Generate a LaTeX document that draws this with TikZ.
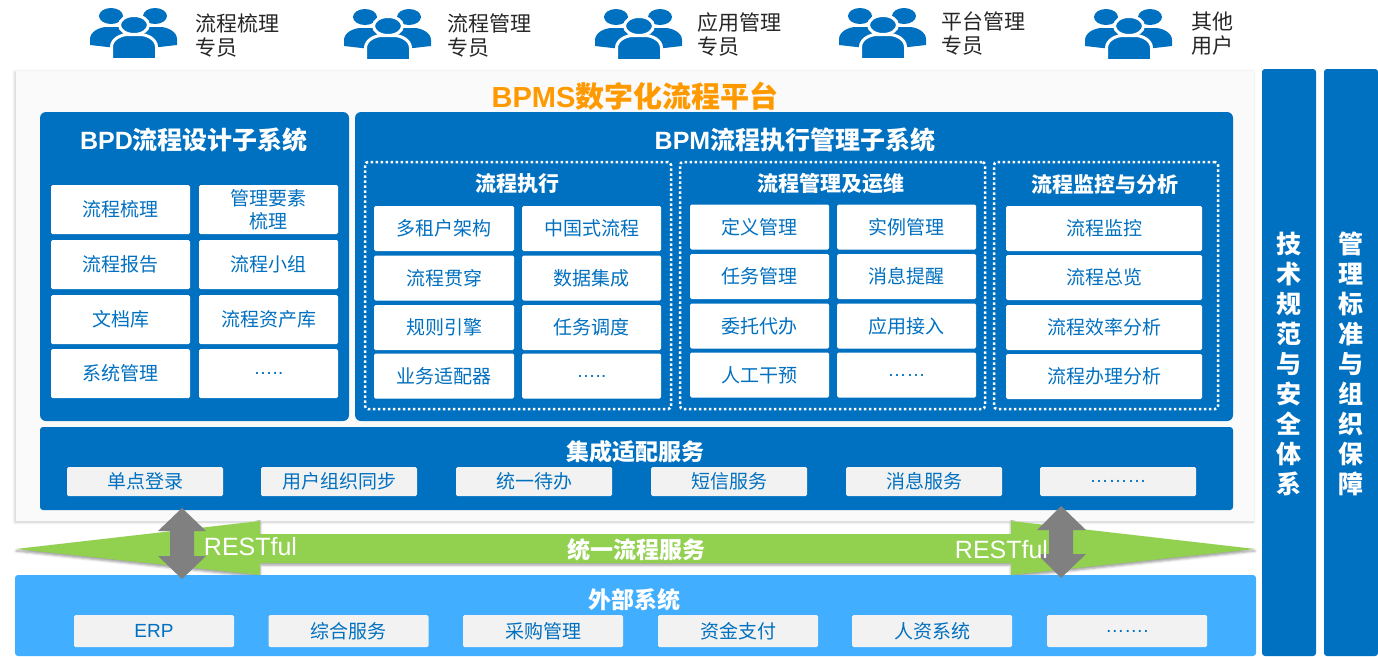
\documentclass[tikz,border=0pt]{standalone}
\usepackage{fontspec}
\setmainfont{Noto Sans CJK SC}
\newfontfamily\latinfont{Liberation Sans}
\usetikzlibrary{shadows.blur}
\definecolor{bpmblue}{HTML}{0070C0}
\definecolor{extblue}{HTML}{42AEFF}
\definecolor{restgreen}{HTML}{92D050}
\definecolor{chipgray}{HTML}{F2F2F2}
\definecolor{titleorange}{HTML}{FF9900}
\tikzset{
  panel/.style={rectangle, fill=bpmblue, rounded corners=6pt, inner sep=0pt},
  card/.style={rectangle, fill=white, text=bpmblue, rounded corners=1.5pt, inner sep=0pt, align=center, font=\fontsize{19}{22}\selectfont},
  chip/.style={rectangle, fill=chipgray, text=bpmblue, rounded corners=1.5pt, inner sep=0pt, font=\fontsize{19}{22}\selectfont},
  frame/.style={rectangle, draw=white, line width=2.5pt, dash pattern=on 2.5pt off 2.5pt, rounded corners=3pt, inner sep=0pt},
  heading/.style={text=white, inner sep=0pt, font=\fontsize{21}{24}\bfseries\selectfont},
  bigheading/.style={text=white, inner sep=0pt, font=\fontsize{23}{26}\bfseries\selectfont},
  subsystem/.style={text=white, inner sep=0pt, font=\fontsize{25}{28}\bfseries\selectfont},
  role/.style={anchor=west, align=left, text=black!85, inner sep=0pt, font=\fontsize{21}{24}\selectfont},
  sidetext/.style={text=white, inner sep=0pt, align=center, font=\fontsize{25}{30}\bfseries\selectfont},
  resttext/.style={text=white, inner sep=0pt, font=\latinfont\fontsize{25}{28}\selectfont},
  people/.pic={
    \fill[bpmblue] (-22,8) ellipse (12 and 8);
    \fill[bpmblue] (22,8) ellipse (12 and 8);
    \fill[bpmblue] (-43,37) -- (-43,31) .. controls (-43,24) and (-34,19) .. (-26,19) -- (-10,19) -- (-10,41) -- (-21,39.5) -- cycle;
    \fill[bpmblue] (44,37) -- (44,31) .. controls (44,24) and (35,19) .. (27,19) -- (11,19) -- (11,41) -- (22,39.5) -- cycle;
    \filldraw[fill=bpmblue, draw=white, line width=3pt] (1,17) ellipse (14.5 and 9.5);
    \filldraw[fill=bpmblue, draw=white, line width=3pt] (-21.5,52) -- (-21.5,39) .. controls (-21.5,31) and (-12,26.5) .. (-5,26.5) -- (7,26.5) .. controls (14,26.5) and (23.5,31) .. (23.5,39) -- (23.5,52) -- cycle;
    \fill[white] (-25,49.5) rectangle (27,54);
  }
}
\begin{document}
\begin{tikzpicture}[x=1pt, y=-1pt]
    \useasboundingbox (0,0) rectangle (1378,656);

    % users on top
    \pic at (133,8) {people};
    \pic at (387,9) {people};
    \pic at (638,9) {people};
    \pic at (882,8) {people};
    \pic at (1128,9) {people};
    \node[role] (r1) at (195,35.5) {流程梳理\\专员};
    \node[role] (r2) at (447,35.5) {流程管理\\专员};
    \node[role] (r3) at (697,34.5) {应用管理\\专员};
    \node[role] (r4) at (941,33.5) {平台管理\\专员};
    \node[role] (r5) at (1191,33.5) {其他\\用户};

    % platform background
    \node[rectangle, fill=white!98!black, inner sep=0pt, minimum width=1238pt, minimum height=450pt, blur shadow={shadow xshift=-1pt, shadow yshift=-1pt, shadow blur radius=3pt, shadow opacity=20}] (platform) at (635,296) {};
    \node[text=titleorange, inner sep=0pt, font=\fontsize{29}{32}\bfseries\selectfont] (title) at (635,96.5) {{\latinfont BPMS}数字化流程平台};

    % BPD
    \node[panel, minimum width=309pt, minimum height=309pt] (bpd) at (194.5,266.5) {};
    \node[subsystem] (bpdt) at (194,139.5) {{\latinfont BPD}流程设计子系统};
    \node[card, minimum width=139pt, minimum height=49pt] (d1) at (120.5,209.5) {流程梳理};
    \node[card, minimum width=139pt, minimum height=49pt, font=\fontsize{19}{23}\selectfont] (d2) at (268.5,209.5) {管理要素\\梳理};
    \node[card, minimum width=139pt, minimum height=49pt] (d3) at (120.5,264.5) {流程报告};
    \node[card, minimum width=139pt, minimum height=49pt] (d4) at (268.5,264.5) {流程小组};
    \node[card, minimum width=139pt, minimum height=49pt] (d5) at (120.5,319.5) {文档库};
    \node[card, minimum width=139pt, minimum height=49pt] (d6) at (268.5,319.5) {流程资产库};
    \node[card, minimum width=139pt, minimum height=49pt] (d7) at (120.5,373.5) {系统管理};
    \node[card, minimum width=139pt, minimum height=49pt] (d8) at (268.5,373.5) {{\latinfont …..}};

    % BPM
    \node[panel, minimum width=878pt, minimum height=309pt] (bpm) at (794,266.5) {};
    \node[subsystem] (bpmt) at (795,139.5) {{\latinfont BPM}流程执行管理子系统};

    \node[frame, minimum width=306pt, minimum height=247pt] (f1) at (518,285.5) {};
    \node[heading] (f1t) at (517,184) {流程执行};
    \node[card, minimum width=140pt, minimum height=45pt] (e1) at (444,228.5) {多租户架构};
    \node[card, minimum width=139pt, minimum height=45pt] (e2) at (591.5,228.5) {中国式流程};
    \node[card, minimum width=140pt, minimum height=45pt] (e3) at (444,278) {流程贯穿};
    \node[card, minimum width=139pt, minimum height=45pt] (e4) at (591.5,278) {数据集成};
    \node[card, minimum width=140pt, minimum height=45pt] (e5) at (444,327.5) {规则引擎};
    \node[card, minimum width=139pt, minimum height=45pt] (e6) at (591.5,327.5) {任务调度};
    \node[card, minimum width=140pt, minimum height=45pt] (e7) at (444,376) {业务适配器};
    \node[card, minimum width=139pt, minimum height=45pt] (e8) at (591.5,376) {{\latinfont …..}};

    \node[frame, minimum width=305pt, minimum height=247pt] (f2) at (832.5,285.5) {};
    \node[heading] (f2t) at (831,184) {流程管理及运维};
    \node[card, minimum width=139pt, minimum height=45pt] (m1) at (759.5,227) {定义管理};
    \node[card, minimum width=139pt, minimum height=45pt] (m2) at (906.5,227) {实例管理};
    \node[card, minimum width=139pt, minimum height=45pt] (m3) at (759.5,276.5) {任务管理};
    \node[card, minimum width=139pt, minimum height=45pt] (m4) at (906.5,276.5) {消息提醒};
    \node[card, minimum width=139pt, minimum height=45pt] (m5) at (759.5,326) {委托代办};
    \node[card, minimum width=139pt, minimum height=45pt] (m6) at (906.5,326) {应用接入};
    \node[card, minimum width=139pt, minimum height=45pt] (m7) at (759.5,375) {人工干预};
    \node[card, minimum width=139pt, minimum height=45pt] (m8) at (906.5,375) {{\latinfont ……}};

    \node[frame, minimum width=224pt, minimum height=247pt] (f3) at (1106,285.5) {};
    \node[heading] (f3t) at (1105,184) {流程监控与分析};
    \node[card, minimum width=196pt, minimum height=45pt] (a1) at (1104,228.5) {流程监控};
    \node[card, minimum width=196pt, minimum height=45pt] (a2) at (1104,277.5) {流程总览};
    \node[card, minimum width=196pt, minimum height=45pt] (a3) at (1104,327.5) {流程效率分析};
    \node[card, minimum width=196pt, minimum height=45pt] (a4) at (1104,376.5) {流程办理分析};

    % integration
    \node[panel, rounded corners=3pt, minimum width=1193pt, minimum height=83pt] (integ) at (636.5,468.5) {};
    \node[bigheading] (integt) at (635,452) {集成适配服务};
    \node[chip, minimum width=156pt, minimum height=29pt] (c1) at (145,481.5) {单点登录};
    \node[chip, minimum width=156pt, minimum height=29pt] (c2) at (339,481.5) {用户组织同步};
    \node[chip, minimum width=156pt, minimum height=29pt] (c3) at (534,481.5) {统一待办};
    \node[chip, minimum width=156pt, minimum height=29pt] (c4) at (729,481.5) {短信服务};
    \node[chip, minimum width=156pt, minimum height=29pt] (c5) at (924,481.5) {消息服务};
    \node[chip, minimum width=156pt, minimum height=29pt] (c6) at (1118,481.5) {{\latinfont ………}};

    % side columns
    \node[panel, rounded corners=3pt, minimum width=54pt, minimum height=587pt] (tech) at (1289,362.5) {};
    \node[sidetext] (techt) at (1289,364) {技\\术\\规\\范\\与\\安\\全\\体\\系};
    \node[panel, rounded corners=3pt, minimum width=54pt, minimum height=587pt] (mgmt) at (1351,362.5) {};
    \node[sidetext] (mgmtt) at (1351,364) {管\\理\\标\\准\\与\\组\\织\\保\\障};

    % service band
    \fill[restgreen, blur shadow={shadow xshift=0pt, shadow yshift=-2pt, shadow blur radius=2.5pt, shadow opacity=40}] (16,549) -- (260,521) -- (260,534) -- (1011,534) -- (1011,521) -- (1255,549) -- (1011,575) -- (1011,563) -- (260,563) -- (260,575) -- cycle;

    % external systems
    \node[panel, fill=extblue, rounded corners=3pt, minimum width=1241pt, minimum height=81pt] (ext) at (635.5,615.5) {};
    \node[bigheading] (extt) at (634,599.5) {外部系统};
    \node[chip, minimum width=160pt, minimum height=32pt, font=\latinfont\fontsize{19}{22}\selectfont] (x1) at (154,631) {ERP};
    \node[chip, minimum width=160pt, minimum height=32pt] (x2) at (348.5,631) {综合服务};
    \node[chip, minimum width=160pt, minimum height=32pt] (x3) at (543,631) {采购管理};
    \node[chip, minimum width=160pt, minimum height=32pt] (x4) at (738,631) {资金支付};
    \node[chip, minimum width=160pt, minimum height=32pt] (x5) at (932,631) {人资系统};
    \node[chip, minimum width=160pt, minimum height=32pt] (x6) at (1127,631) {{\latinfont …….}};

    % gray arrows
    \fill[black!50] (182,508) -- (206,531) -- (194,531) -- (194,556) -- (206,556) -- (182,579) -- (158,556) -- (170,556) -- (170,531) -- (158,531) -- cycle;
    \fill[black!50] (1061,506) -- (1086,530) -- (1073,530) -- (1073,554) -- (1086,554) -- (1061,578) -- (1037,554) -- (1049,554) -- (1049,530) -- (1037,530) -- cycle;

    \node[resttext] (rest1) at (250.5,547) {RESTful};
    \node[resttext] (rest2) at (1001.5,550) {RESTful};
    \node[bigheading] (bus) at (636,549.5) {统一流程服务};
\end{tikzpicture}
\end{document}
